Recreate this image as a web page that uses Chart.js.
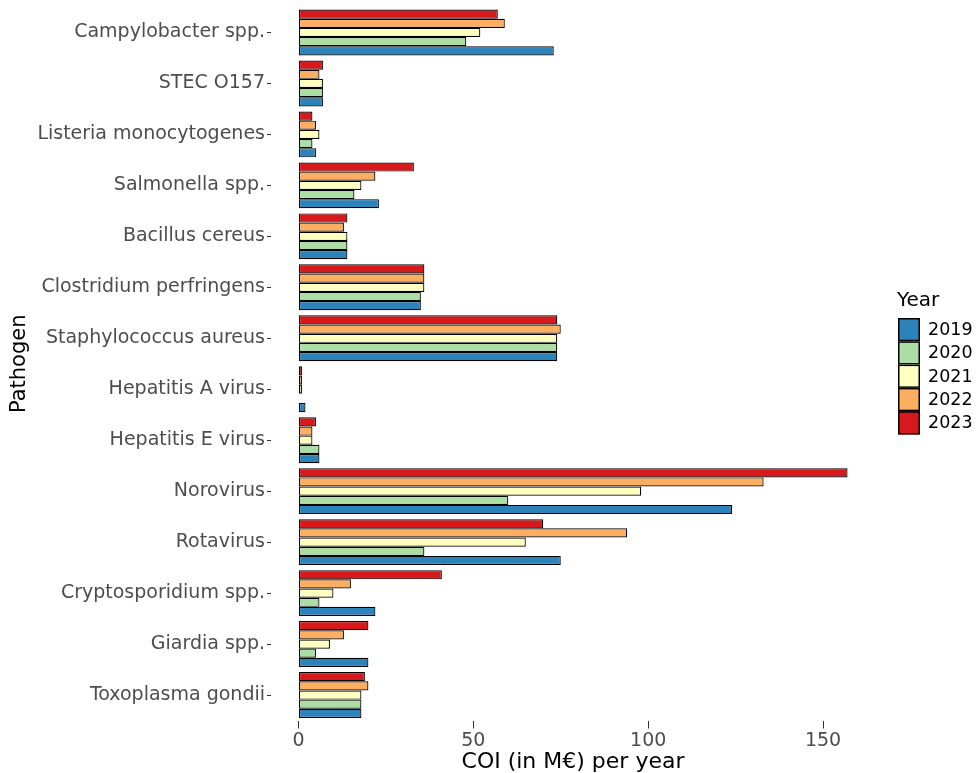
<!DOCTYPE html>
<html>
<head>
<meta charset="utf-8">
<script src="https://cdn.jsdelivr.net/npm/chart.js@4"></script>
<style>
  html, body { margin: 0; padding: 0; background: #fff; }
  #box { width: 976px; height: 773px; }
</style>
</head>
<body>
<div id="box"><canvas id="grafico"></canvas></div>
<script>
// categorias (de cima para baixo)
const pathogens = [
    'Campylobacter spp.', 'STEC O157', 'Listeria monocytogenes', 'Salmonella spp.',
    'Bacillus cereus', 'Clostridium perfringens', 'Staphylococcus aureus',
    'Hepatitis A virus', 'Hepatitis E virus', 'Norovirus', 'Rotavirus',
    'Cryptosporidium spp.', 'Giardia spp.', 'Toxoplasma gondii'
];

const years = ['2019', '2020', '2021', '2022', '2023'];

// COI em M€ por ano, mesma ordem de pathogens
const coi2019 = [73, 7, 5, 23, 14, 35, 74, 2, 6, 124, 75, 22, 20, 18];
const coi2020 = [48, 7, 4, 16, 14, 35, 74, 0, 6, 60, 36, 6, 5, 18];
const coi2021 = [52, 7, 6, 18, 14, 36, 74, 1, 4, 98, 65, 10, 9, 18];
const coi2022 = [59, 6, 5, 22, 13, 36, 75, 1, 4, 133, 94, 15, 13, 20];
const coi2023 = [57, 7, 4, 33, 14, 36, 74, 1, 5, 157, 70, 41, 20, 19];

const xTicks = [0, 50, 100, 150];

const cores = {
    '2019': '#2b83ba',
    '2020': '#abdda4',
    '2021': '#ffffbf',
    '2022': '#fdae61',
    '2023': '#d7191c'
};
const valores = { '2019': coi2019, '2020': coi2020, '2021': coi2021, '2022': coi2022, '2023': coi2023 };

// 2023 fica no topo de cada grupo
const datasets = years.slice().reverse().map(function (ano) {
    return {
        label: ano,
        data: valores[ano],
        backgroundColor: cores[ano],
        borderColor: '#000',
        borderWidth: 1.2,
        borderSkipped: false,
        categoryPercentage: 0.9,
        barPercentage: 1.0
    };
});

// legenda desenhada à mão, estilo ggplot
const legendaYear = {
    id: 'legendaYear',
    afterDraw(chart) {
        const c = chart.ctx;
        c.save();
        c.font = '20px "DejaVu Sans"';
        c.fillStyle = '#000';
        c.textAlign = 'left';
        c.textBaseline = 'middle';
        c.fillText('Year', 897, 301);
        const x0 = 898, y0 = 318, w = 22, h = 23.3;
        years.forEach(function (ano, i) {
            const y = y0 + i * h;
            c.fillStyle = cores[ano];
            c.fillRect(x0, y, w, h);
            c.strokeStyle = '#000';
            c.lineWidth = 1.5;
            c.strokeRect(x0 + 0.75, y + 0.75, w - 1.5, h - 1.5);
            c.fillStyle = '#000';
            c.font = '17.5px "DejaVu Sans"';
            c.fillText(ano, 928, y + h / 2 + 1);
        });
        c.restore();
    }
};

const ctx = document.getElementById('grafico').getContext('2d');

const grafico = new Chart(ctx, {
    type: 'bar',
    data: { labels: pathogens, datasets: datasets },
    plugins: [legendaYear],
    options: {
        indexAxis: 'y',
        responsive: true,
        maintainAspectRatio: false,
        animation: false,
        layout: { padding: { top: 7, right: 101, bottom: 0, left: 0 } },
        plugins: {
            legend: { display: false },
            tooltip: { enabled: false }
        },
        scales: {
            x: {
                type: 'linear',
                min: -7.85,
                max: 164.85,
                afterBuildTicks: function (scale) {
                    scale.ticks = xTicks.map(function (v) { return { value: v }; });
                },
                afterFit: function (scale) { scale.height = 52.5; },
                border: { display: false },
                grid: { drawOnChartArea: false, drawTicks: true, tickLength: 8, tickColor: '#333', tickWidth: 1 },
                ticks: { font: { family: 'DejaVu Sans', size: 19 }, color: '#4d4d4d', padding: 1 },
                title: {
                    display: true,
                    text: 'COI (in M€) per year',
                    font: { family: 'DejaVu Sans', size: 22, lineHeight: 1 },
                    color: '#000',
                    padding: 0
                }
            },
            y: {
                type: 'category',
                offset: true,
                afterFit: function (scale) { scale.width = 271; },
                border: { display: false },
                grid: { drawOnChartArea: false, drawTicks: true, tickLength: 4, tickColor: '#333', tickWidth: 1, offset: false },
                ticks: { font: { family: 'DejaVu Sans', size: 19, lineHeight: 0.5 }, color: '#4d4d4d', padding: 2, autoSkip: false },
                title: {
                    display: true,
                    text: 'Pathogen',
                    font: { family: 'DejaVu Sans', size: 21 },
                    color: '#000',
                    padding: 7
                }
            }
        }
    }
});
</script>
</body>
</html>
